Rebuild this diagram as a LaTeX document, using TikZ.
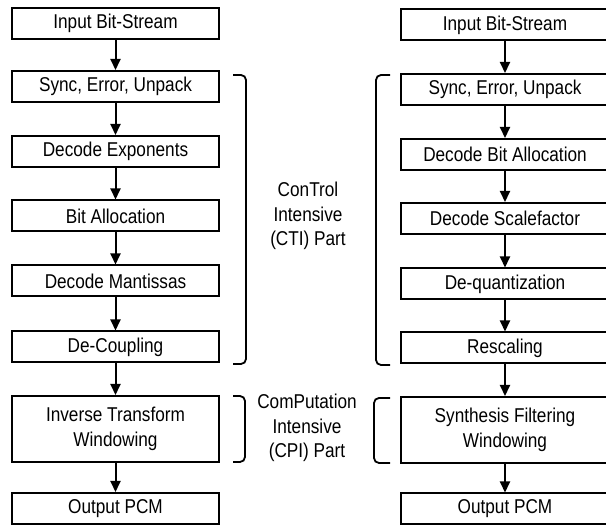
\documentclass[tikz,border=0pt]{standalone}
\usepackage{fontspec}
\setmainfont{Liberation Sans}[FakeStretch=0.86]
\usetikzlibrary{arrows.meta}
\newcommand{\rsh}{\hspace*{-4pt}}
\begin{document}
\begin{tikzpicture}[x=1pt,y=-1pt,
  blk/.style={draw, line width=2pt, minimum width=207pt, minimum height=31pt, inner sep=0pt,
    font=\fontsize{20}{25}\selectfont, align=center},
  tall/.style={blk, minimum height=66pt},
  rblk/.style={blk, minimum width=212pt},
  rtall/.style={tall, minimum width=212pt},
  arr/.style={line width=2pt, -{Triangle[length=11pt,width=10pt]}},
  brk/.style={line width=1.8pt, rounded corners=5pt},
  lbl/.style={font=\fontsize{20}{24.5}\selectfont, align=center}]
\useasboundingbox (0,0) rectangle (606,526);
\fill[white] (0,0) rectangle (606,526);
\clip (0,0) rectangle (606,526);
% left column
\node[blk] (Lin) at (115.5,23.5) {Input Bit-Stream};
\node[blk] (Lsync) at (115.5,86.5) {Sync, Error, Unpack};
\node[blk] (Lexp) at (115.5,151.5) {Decode Exponents};
\node[blk] (Lba) at (115.5,216) {Bit Allocation};
\node[blk] (Lman) at (115.5,281) {Decode Mantissas};
\node[blk] (Ldec) at (115.5,347) {De-Coupling};
\node[tall] (Linv) at (115.5,429) {Inverse Transform\\Windowing};
\node[blk] (Lout) at (115.5,508.5) {Output PCM};
\foreach \a/\b in {Lin/Lsync,Lsync/Lexp,Lexp/Lba,Lba/Lman,Lman/Ldec,Ldec/Linv,Linv/Lout}
  \draw[arr] (\a.south) -- (\b.north);
% right column
\node[rblk] (Rin) at (507,25) {\rsh Input Bit-Stream};
\node[rblk] (Rsync) at (507,89.5) {\rsh Sync, Error, Unpack};
\node[rblk] (Rdba) at (507,154.5) {\rsh Decode Bit Allocation};
\node[rblk] (Rdsf) at (507,218.5) {\rsh Decode Scalefactor};
\node[rblk] (Rdeq) at (507,284) {\rsh De-quantization};
\node[rblk] (Rres) at (507,348) {\rsh Rescaling};
\node[rtall] (Rsyn) at (507,430) {\rsh Synthesis Filtering\\\rsh Windowing};
\node[rblk] (Rout) at (507,509) {\rsh Output PCM};
\coordinate (Rx) at (505,0);
\foreach \a/\b in {Rin/Rsync,Rsync/Rdba,Rdba/Rdsf,Rdsf/Rdeq,Rdeq/Rres,Rres/Rsyn,Rsyn/Rout}
  \draw[arr] (\a.south -| Rx) -- (\b.north -| Rx);
% brackets
\draw[brk] (233,75) -- (246,75) -- (246,364) -- (233,364);
\draw[brk] (233,396) -- (245,396) -- (245,462) -- (233,462);
\draw[brk] (390,75) -- (376,75) -- (376,365) -- (390,365);
\draw[brk] (390,398) -- (374,398) -- (374,463) -- (390,463);
% labels
\node[lbl] (cti) at (308,216) {ConTrol\\Intensive\\(CTI) Part};
\node[lbl] (cpi) at (307,428) {ComPutation\\Intensive\\(CPI) Part};
\end{tikzpicture}
\end{document}
